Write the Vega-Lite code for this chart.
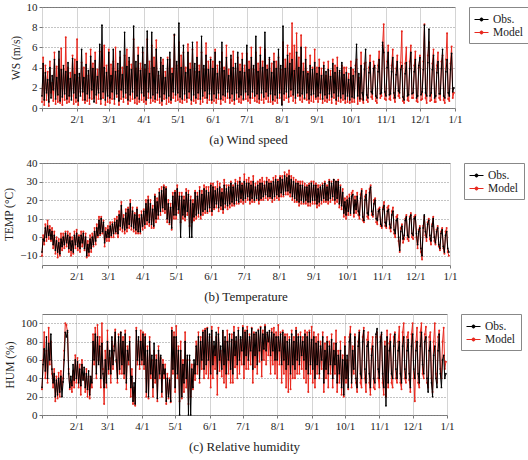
{
"$schema": "https://vega.github.io/schema/vega-lite/v6.json",
"padding": {"left": 3, "top": 0, "right": 1, "bottom": 1},
"datasets": {"s": [
{"d":0,"wo":1.2,"wm":0.6,"to":-8,"tm":-10,"ho":30,"hm":28},
{"d":1,"wo":4.4,"wm":5.0,"to":-1,"tm":1,"ho":55,"hm":60},
{"d":2,"wo":0.8,"wm":0.3,"to":-2,"tm":-4,"ho":72,"hm":90},
{"d":3,"wo":3.5,"wm":4.2,"to":5,"tm":7,"ho":48,"hm":40},
{"d":4,"wo":1.5,"wm":0.8,"to":0,"tm":-2,"ho":85,"hm":70},
{"d":5,"wo":2.8,"wm":3.6,"to":6,"tm":9,"ho":40,"hm":35},
{"d":6,"wo":0.6,"wm":0.2,"to":1,"tm":-1,"ho":78,"hm":95},
{"d":7,"wo":4.0,"wm":4.6,"to":4,"tm":6,"ho":60,"hm":55},
{"d":8,"wo":1.0,"wm":1.5,"to":-1,"tm":-2,"ho":88,"hm":80},
{"d":9,"wo":3.2,"wm":2.5,"to":3,"tm":5,"ho":50,"hm":45},
{"d":10,"wo":1.8,"wm":0.7,"to":-4,"tm":-6,"ho":35,"hm":30},
{"d":11,"wo":4.8,"wm":5.5,"to":1,"tm":3,"ho":45,"hm":50},
{"d":12,"wo":0.9,"wm":0.4,"to":-7,"tm":-9,"ho":20,"hm":15},
{"d":13,"wo":3.0,"wm":4.1,"to":-2,"tm":0,"ho":38,"hm":42},
{"d":14,"wo":1.3,"wm":0.6,"to":-8,"tm":-11,"ho":22,"hm":18},
{"d":15,"wo":5.6,"wm":4.8,"to":-3,"tm":-1,"ho":40,"hm":46},
{"d":16,"wo":0.7,"wm":0.5,"to":-9,"tm":-10,"ho":25,"hm":20},
{"d":17,"wo":3.8,"wm":5.9,"to":-1,"tm":2,"ho":42,"hm":48},
{"d":18,"wo":1.1,"wm":0.3,"to":-5,"tm":-7,"ho":20,"hm":28},
{"d":19,"wo":4.2,"wm":3.8,"to":0,"tm":2,"ho":36,"hm":40},
{"d":20,"wo":1.4,"wm":0.8,"to":-4,"tm":-6,"ho":60,"hm":70},
{"d":21,"wo":3.6,"wm":7.0,"to":2,"tm":3,"ho":90,"hm":100},
{"d":22,"wo":0.9,"wm":0.5,"to":-3,"tm":-5,"ho":85,"hm":98},
{"d":23,"wo":4.5,"wm":4.0,"to":1,"tm":3,"ho":92,"hm":90},
{"d":24,"wo":1.2,"wm":0.6,"to":-6,"tm":-8,"ho":45,"hm":50},
{"d":25,"wo":2.9,"wm":3.5,"to":0,"tm":2,"ho":30,"hm":28},
{"d":26,"wo":0.8,"wm":1.2,"to":-7,"tm":-10,"ho":42,"hm":35},
{"d":27,"wo":4.9,"wm":5.2,"to":-2,"tm":0,"ho":32,"hm":25},
{"d":28,"wo":1.5,"wm":0.4,"to":-8,"tm":-9,"ho":55,"hm":48},
{"d":29,"wo":3.3,"wm":4.8,"to":1,"tm":3,"ho":38,"hm":30},
{"d":30,"wo":1.0,"wm":0.6,"to":-4,"tm":-6,"ho":60,"hm":65},
{"d":31,"wo":4.6,"wm":6.8,"to":2,"tm":4,"ho":40,"hm":35},
{"d":32,"wo":0.7,"wm":0.3,"to":-5,"tm":-7,"ho":58,"hm":62},
{"d":33,"wo":3.4,"wm":3.0,"to":0,"tm":1,"ho":35,"hm":30},
{"d":34,"wo":1.2,"wm":1.6,"to":-6,"tm":-8,"ho":50,"hm":55},
{"d":35,"wo":5.8,"wm":4.5,"to":1,"tm":3,"ho":32,"hm":22},
{"d":36,"wo":1.6,"wm":0.8,"to":-3,"tm":-5,"ho":55,"hm":60},
{"d":37,"wo":3.0,"wm":4.0,"to":2,"tm":3,"ho":38,"hm":40},
{"d":38,"wo":0.8,"wm":0.5,"to":-6,"tm":-7,"ho":52,"hm":45},
{"d":39,"wo":4.3,"wm":5.4,"to":0,"tm":2,"ho":30,"hm":25},
{"d":40,"wo":1.4,"wm":0.7,"to":-10,"tm":-11,"ho":45,"hm":50},
{"d":41,"wo":3.7,"wm":3.2,"to":-4,"tm":-2,"ho":28,"hm":20},
{"d":42,"wo":1.0,"wm":0.4,"to":-8,"tm":-10,"ho":48,"hm":42},
{"d":43,"wo":5.1,"wm":5.8,"to":-1,"tm":1,"ho":22,"hm":18},
{"d":44,"wo":1.8,"wm":0.9,"to":-6,"tm":-8,"ho":42,"hm":40},
{"d":45,"wo":3.9,"wm":4.4,"to":0,"tm":2,"ho":35,"hm":30},
{"d":46,"wo":0.6,"wm":1.0,"to":-4,"tm":-5,"ho":80,"hm":88},
{"d":47,"wo":4.7,"wm":5.5,"to":3,"tm":5,"ho":60,"hm":55},
{"d":48,"wo":1.3,"wm":0.5,"to":-2,"tm":-4,"ho":88,"hm":95},
{"d":49,"wo":3.1,"wm":3.8,"to":5,"tm":7,"ho":45,"hm":40},
{"d":50,"wo":1.5,"wm":0.9,"to":1,"tm":0,"ho":85,"hm":98},
{"d":51,"wo":6.3,"wm":5.6,"to":9,"tm":11,"ho":55,"hm":60},
{"d":52,"wo":0.9,"wm":0.4,"to":2,"tm":1,"ho":75,"hm":85},
{"d":53,"wo":8.2,"wm":6.0,"to":10,"tm":11,"ho":40,"hm":30},
{"d":54,"wo":1.6,"wm":1.0,"to":3,"tm":2,"ho":78,"hm":100},
{"d":55,"wo":4.0,"wm":6.2,"to":8,"tm":9,"ho":45,"hm":50},
{"d":56,"wo":0.8,"wm":0.3,"to":-3,"tm":-5,"ho":30,"hm":12},
{"d":57,"wo":3.5,"wm":4.2,"to":3,"tm":5,"ho":60,"hm":70},
{"d":58,"wo":1.2,"wm":0.6,"to":0,"tm":-2,"ho":35,"hm":30},
{"d":59,"wo":5.5,"wm":5.8,"to":4,"tm":6,"ho":80,"hm":92},
{"d":60,"wo":1.0,"wm":0.5,"to":0,"tm":-2,"ho":50,"hm":45},
{"d":61,"wo":3.2,"wm":4.3,"to":6,"tm":8,"ho":70,"hm":62},
{"d":62,"wo":1.6,"wm":0.9,"to":1,"tm":0,"ho":45,"hm":35},
{"d":63,"wo":5.8,"wm":4.6,"to":7,"tm":8,"ho":85,"hm":80},
{"d":64,"wo":0.9,"wm":0.4,"to":2,"tm":0,"ho":55,"hm":50},
{"d":65,"wo":3.6,"wm":6.0,"to":8,"tm":10,"ho":70,"hm":75},
{"d":66,"wo":1.4,"wm":1.1,"to":3,"tm":2,"ho":90,"hm":93},
{"d":67,"wo":4.4,"wm":3.7,"to":9,"tm":11,"ho":60,"hm":58},
{"d":68,"wo":0.7,"wm":0.3,"to":2,"tm":0,"ho":40,"hm":35},
{"d":69,"wo":5.6,"wm":5.0,"to":12,"tm":14,"ho":85,"hm":88},
{"d":70,"wo":1.8,"wm":0.9,"to":6,"tm":4,"ho":50,"hm":45},
{"d":71,"wo":3.3,"wm":4.0,"to":17,"tm":19,"ho":90,"hm":90},
{"d":72,"wo":1.1,"wm":0.6,"to":5,"tm":3,"ho":55,"hm":45},
{"d":73,"wo":7.5,"wm":5.2,"to":10,"tm":12,"ho":80,"hm":85},
{"d":74,"wo":1.5,"wm":1.0,"to":4,"tm":2,"ho":45,"hm":40},
{"d":75,"wo":4.1,"wm":5.8,"to":13,"tm":15,"ho":88,"hm":92},
{"d":76,"wo":0.8,"wm":0.4,"to":5,"tm":3,"ho":35,"hm":28},
{"d":77,"wo":5.0,"wm":4.6,"to":15,"tm":16,"ho":70,"hm":75},
{"d":78,"wo":1.3,"wm":0.7,"to":7,"tm":5,"ho":60,"hm":55},
{"d":79,"wo":3.8,"wm":4.3,"to":18,"tm":20,"ho":80,"hm":85},
{"d":80,"wo":1.6,"wm":0.9,"to":6,"tm":4,"ho":30,"hm":20},
{"d":81,"wo":8.1,"wm":6.8,"to":14,"tm":16,"ho":42,"hm":50},
{"d":82,"wo":1.0,"wm":0.5,"to":5,"tm":3,"ho":15,"hm":12},
{"d":83,"wo":4.6,"wm":3.9,"to":12,"tm":13,"ho":35,"hm":30},
{"d":84,"wo":1.2,"wm":0.4,"to":4,"tm":2,"ho":12,"hm":10},
{"d":85,"wo":5.2,"wm":6.0,"to":15,"tm":16,"ho":92,"hm":95},
{"d":86,"wo":0.9,"wm":0.6,"to":3,"tm":2,"ho":60,"hm":55},
{"d":87,"wo":3.7,"wm":4.4,"to":10,"tm":12,"ho":85,"hm":80},
{"d":88,"wo":1.5,"wm":0.8,"to":3,"tm":2,"ho":55,"hm":50},
{"d":89,"wo":6.0,"wm":5.5,"to":12,"tm":14,"ho":80,"hm":92},
{"d":90,"wo":1.2,"wm":0.6,"to":6,"tm":4,"ho":60,"hm":55},
{"d":91,"wo":4.3,"wm":3.8,"to":14,"tm":15,"ho":88,"hm":90},
{"d":92,"wo":0.8,"wm":0.4,"to":7,"tm":5,"ho":55,"hm":50},
{"d":93,"wo":7.6,"wm":6.8,"to":18,"tm":20,"ho":85,"hm":88},
{"d":94,"wo":1.6,"wm":1.0,"to":9,"tm":7,"ho":25,"hm":20},
{"d":95,"wo":3.4,"wm":4.6,"to":20,"tm":22,"ho":70,"hm":75},
{"d":96,"wo":1.0,"wm":0.5,"to":8,"tm":6,"ho":20,"hm":18},
{"d":97,"wo":7.5,"wm":6.2,"to":18,"tm":20,"ho":80,"hm":85},
{"d":98,"wo":1.3,"wm":0.7,"to":7,"tm":5,"ho":45,"hm":40},
{"d":99,"wo":4.0,"wm":5.0,"to":15,"tm":17,"ho":65,"hm":60},
{"d":100,"wo":0.9,"wm":0.6,"to":6,"tm":5,"ho":30,"hm":20},
{"d":101,"wo":5.8,"wm":6.7,"to":22,"tm":23,"ho":78,"hm":70},
{"d":102,"wo":1.5,"wm":0.8,"to":10,"tm":8,"ho":40,"hm":35},
{"d":103,"wo":3.6,"wm":3.2,"to":19,"tm":21,"ho":60,"hm":65},
{"d":104,"wo":1.1,"wm":0.5,"to":12,"tm":10,"ho":18,"hm":15},
{"d":105,"wo":5.0,"wm":4.5,"to":24,"tm":26,"ho":70,"hm":75},
{"d":106,"wo":0.7,"wm":0.3,"to":14,"tm":12,"ho":45,"hm":40},
{"d":107,"wo":4.2,"wm":4.8,"to":25,"tm":27,"ho":65,"hm":62},
{"d":108,"wo":1.4,"wm":0.9,"to":16,"tm":14,"ho":25,"hm":20},
{"d":109,"wo":3.0,"wm":3.6,"to":27,"tm":28,"ho":55,"hm":60},
{"d":110,"wo":1.0,"wm":0.4,"to":15,"tm":13,"ho":45,"hm":40},
{"d":111,"wo":4.8,"wm":5.0,"to":26,"tm":27,"ho":50,"hm":55},
{"d":112,"wo":1.2,"wm":0.6,"to":10,"tm":8,"ho":15,"hm":12},
{"d":113,"wo":5.5,"wm":4.8,"to":18,"tm":20,"ho":40,"hm":45},
{"d":114,"wo":0.8,"wm":0.5,"to":8,"tm":7,"ho":20,"hm":18},
{"d":115,"wo":3.4,"wm":3.9,"to":16,"tm":18,"ho":38,"hm":40},
{"d":116,"wo":1.6,"wm":1.0,"to":5,"tm":4,"ho":15,"hm":14},
{"d":117,"wo":7.3,"wm":7.2,"to":22,"tm":24,"ho":92,"hm":95},
{"d":118,"wo":1.3,"wm":0.7,"to":12,"tm":10,"ho":50,"hm":45},
{"d":119,"wo":4.6,"wm":4.2,"to":24,"tm":25,"ho":85,"hm":90},
{"d":120,"wo":1.5,"wm":0.8,"to":12,"tm":10,"ho":30,"hm":25},
{"d":121,"wo":8.4,"wm":6.5,"to":26,"tm":28,"ho":85,"hm":97},
{"d":122,"wo":1.1,"wm":0.6,"to":15,"tm":13,"ho":45,"hm":40},
{"d":123,"wo":4.0,"wm":5.2,"to":22,"tm":24,"ho":70,"hm":75},
{"d":124,"wo":0.9,"wm":0.5,"to":0,"tm":8,"ho":0,"hm":15},
{"d":125,"wo":6.2,"wm":5.5,"to":22,"tm":24,"ho":70,"hm":80},
{"d":126,"wo":1.4,"wm":0.8,"to":12,"tm":10,"ho":20,"hm":18},
{"d":127,"wo":3.5,"wm":4.0,"to":20,"tm":22,"ho":55,"hm":60},
{"d":128,"wo":1.0,"wm":0.6,"to":11,"tm":9,"ho":35,"hm":25},
{"d":129,"wo":5.5,"wm":6.3,"to":24,"tm":26,"ho":80,"hm":90},
{"d":130,"wo":1.6,"wm":1.0,"to":14,"tm":12,"ho":40,"hm":30},
{"d":131,"wo":3.8,"wm":4.4,"to":23,"tm":25,"ho":65,"hm":60},
{"d":132,"wo":0.8,"wm":0.4,"to":0,"tm":6,"ho":0,"hm":12},
{"d":133,"wo":6.5,"wm":5.8,"to":20,"tm":22,"ho":65,"hm":60},
{"d":134,"wo":1.3,"wm":0.7,"to":0,"tm":8,"ho":0,"hm":20},
{"d":135,"wo":4.4,"wm":3.6,"to":18,"tm":20,"ho":50,"hm":55},
{"d":136,"wo":1.0,"wm":0.5,"to":11,"tm":9,"ho":30,"hm":28},
{"d":137,"wo":5.0,"wm":6.5,"to":24,"tm":25,"ho":60,"hm":55},
{"d":138,"wo":1.5,"wm":0.9,"to":12,"tm":10,"ho":45,"hm":38},
{"d":139,"wo":3.6,"wm":4.2,"to":22,"tm":24,"ho":75,"hm":80},
{"d":140,"wo":0.9,"wm":0.4,"to":13,"tm":11,"ho":55,"hm":45},
{"d":141,"wo":7.1,"wm":5.5,"to":25,"tm":27,"ho":85,"hm":90},
{"d":142,"wo":1.2,"wm":0.6,"to":12,"tm":10,"ho":40,"hm":35},
{"d":143,"wo":4.2,"wm":3.8,"to":23,"tm":25,"ho":80,"hm":85},
{"d":144,"wo":1.7,"wm":1.0,"to":14,"tm":12,"ho":60,"hm":50},
{"d":145,"wo":5.2,"wm":6.4,"to":26,"tm":28,"ho":90,"hm":92},
{"d":146,"wo":1.0,"wm":0.5,"to":15,"tm":13,"ho":50,"hm":40},
{"d":147,"wo":3.8,"wm":4.6,"to":25,"tm":27,"ho":92,"hm":94},
{"d":148,"wo":1.4,"wm":0.8,"to":14,"tm":13,"ho":55,"hm":45},
{"d":149,"wo":4.8,"wm":5.0,"to":24,"tm":27,"ho":94,"hm":95},
{"d":150,"wo":0.8,"wm":0.5,"to":16,"tm":14,"ho":60,"hm":40},
{"d":151,"wo":3.9,"wm":4.6,"to":28,"tm":29,"ho":88,"hm":85},
{"d":152,"wo":1.4,"wm":0.7,"to":14,"tm":12,"ho":45,"hm":30},
{"d":153,"wo":5.5,"wm":5.8,"to":27,"tm":29,"ho":92,"hm":96},
{"d":154,"wo":1.0,"wm":0.5,"to":16,"tm":15,"ho":55,"hm":40},
{"d":155,"wo":3.4,"wm":4.2,"to":25,"tm":27,"ho":80,"hm":75},
{"d":156,"wo":1.5,"wm":0.9,"to":18,"tm":16,"ho":65,"hm":50},
{"d":157,"wo":4.6,"wm":4.5,"to":26,"tm":30,"ho":90,"hm":85},
{"d":158,"wo":0.9,"wm":0.4,"to":16,"tm":14,"ho":45,"hm":22},
{"d":159,"wo":6.5,"wm":5.5,"to":27,"tm":29,"ho":88,"hm":95},
{"d":160,"wo":1.3,"wm":0.8,"to":17,"tm":15,"ho":60,"hm":48},
{"d":161,"wo":3.7,"wm":4.0,"to":24,"tm":26,"ho":75,"hm":70},
{"d":162,"wo":1.2,"wm":0.6,"to":15,"tm":13,"ho":50,"hm":42},
{"d":163,"wo":5.0,"wm":6.2,"to":28,"tm":31,"ho":92,"hm":90},
{"d":164,"wo":1.6,"wm":1.0,"to":18,"tm":16,"ho":55,"hm":35},
{"d":165,"wo":3.2,"wm":3.8,"to":26,"tm":28,"ho":85,"hm":80},
{"d":166,"wo":1.0,"wm":0.5,"to":17,"tm":15,"ho":45,"hm":30},
{"d":167,"wo":5.2,"wm":4.8,"to":27,"tm":28,"ho":80,"hm":92},
{"d":168,"wo":1.4,"wm":0.7,"to":18,"tm":16,"ho":60,"hm":45},
{"d":169,"wo":4.0,"wm":5.6,"to":29,"tm":30,"ho":88,"hm":80},
{"d":170,"wo":0.8,"wm":0.4,"to":19,"tm":17,"ho":50,"hm":35},
{"d":171,"wo":4.4,"wm":3.9,"to":27,"tm":28,"ho":82,"hm":88},
{"d":172,"wo":1.5,"wm":0.9,"to":18,"tm":17,"ho":45,"hm":35},
{"d":173,"wo":5.5,"wm":5.0,"to":29,"tm":31,"ho":90,"hm":96},
{"d":174,"wo":1.1,"wm":0.6,"to":20,"tm":18,"ho":65,"hm":52},
{"d":175,"wo":3.6,"wm":4.3,"to":28,"tm":30,"ho":85,"hm":80},
{"d":176,"wo":1.3,"wm":0.5,"to":19,"tm":18,"ho":55,"hm":40},
{"d":177,"wo":4.8,"wm":5.4,"to":30,"tm":32,"ho":92,"hm":95},
{"d":178,"wo":0.9,"wm":0.8,"to":21,"tm":19,"ho":60,"hm":45},
{"d":179,"wo":3.5,"wm":4.2,"to":28,"tm":29,"ho":85,"hm":82},
{"d":180,"wo":1.6,"wm":0.9,"to":20,"tm":18,"ho":70,"hm":55},
{"d":181,"wo":6.2,"wm":5.4,"to":30,"tm":34,"ho":95,"hm":97},
{"d":182,"wo":1.3,"wm":0.7,"to":21,"tm":19,"ho":55,"hm":40},
{"d":183,"wo":3.8,"wm":4.6,"to":29,"tm":31,"ho":90,"hm":92},
{"d":184,"wo":1.0,"wm":0.5,"to":22,"tm":20,"ho":65,"hm":50},
{"d":185,"wo":5.0,"wm":6.0,"to":29,"tm":32,"ho":92,"hm":96},
{"d":186,"wo":1.6,"wm":1.0,"to":20,"tm":18,"ho":60,"hm":50},
{"d":187,"wo":4.2,"wm":3.8,"to":28,"tm":30,"ho":85,"hm":88},
{"d":188,"wo":1.2,"wm":0.7,"to":21,"tm":19,"ho":70,"hm":55},
{"d":189,"wo":7.1,"wm":5.5,"to":30,"tm":33,"ho":94,"hm":95},
{"d":190,"wo":1.4,"wm":0.6,"to":20,"tm":19,"ho":50,"hm":35},
{"d":191,"wo":3.6,"wm":4.4,"to":27,"tm":29,"ho":88,"hm":90},
{"d":192,"wo":0.9,"wm":0.5,"to":21,"tm":20,"ho":65,"hm":52},
{"d":193,"wo":5.2,"wm":6.0,"to":28,"tm":30,"ho":90,"hm":88},
{"d":194,"wo":1.5,"wm":0.8,"to":20,"tm":18,"ho":55,"hm":45},
{"d":195,"wo":4.0,"wm":4.6,"to":29,"tm":31,"ho":92,"hm":93},
{"d":196,"wo":1.1,"wm":0.5,"to":21,"tm":20,"ho":70,"hm":58},
{"d":197,"wo":7.5,"wm":5.8,"to":29,"tm":32,"ho":95,"hm":96},
{"d":198,"wo":1.6,"wm":0.9,"to":22,"tm":20,"ho":60,"hm":42},
{"d":199,"wo":3.8,"wm":4.2,"to":28,"tm":30,"ho":88,"hm":92},
{"d":200,"wo":1.2,"wm":0.6,"to":23,"tm":21,"ho":72,"hm":60},
{"d":201,"wo":5.0,"wm":4.8,"to":30,"tm":32,"ho":96,"hm":98},
{"d":202,"wo":1.4,"wm":0.6,"to":22,"tm":20,"ho":70,"hm":55},
{"d":203,"wo":3.5,"wm":4.4,"to":29,"tm":31,"ho":90,"hm":88},
{"d":204,"wo":0.8,"wm":0.4,"to":22,"tm":21,"ho":80,"hm":65},
{"d":205,"wo":4.6,"wm":5.4,"to":29,"tm":30,"ho":92,"hm":90},
{"d":206,"wo":1.3,"wm":0.7,"to":21,"tm":19,"ho":65,"hm":45},
{"d":207,"wo":3.9,"wm":4.6,"to":30,"tm":32,"ho":90,"hm":94},
{"d":208,"wo":1.0,"wm":0.5,"to":22,"tm":20,"ho":70,"hm":55},
{"d":209,"wo":5.8,"wm":5.0,"to":31,"tm":33,"ho":88,"hm":95},
{"d":210,"wo":1.5,"wm":1.0,"to":23,"tm":21,"ho":60,"hm":45},
{"d":211,"wo":4.2,"wm":3.8,"to":30,"tm":31,"ho":85,"hm":90},
{"d":212,"wo":0.3,"wm":0.4,"to":22,"tm":20,"ho":60,"hm":40},
{"d":213,"wo":8.1,"wm":6.5,"to":32,"tm":33,"ho":85,"hm":98},
{"d":214,"wo":1.4,"wm":0.8,"to":24,"tm":22,"ho":70,"hm":55},
{"d":215,"wo":3.9,"wm":4.8,"to":31,"tm":33,"ho":88,"hm":90},
{"d":216,"wo":1.6,"wm":1.0,"to":23,"tm":22,"ho":55,"hm":35},
{"d":217,"wo":5.2,"wm":6.2,"to":33,"tm":35,"ho":90,"hm":92},
{"d":218,"wo":1.1,"wm":0.6,"to":25,"tm":23,"ho":60,"hm":45},
{"d":219,"wo":4.4,"wm":5.4,"to":32,"tm":34,"ho":85,"hm":88},
{"d":220,"wo":1.8,"wm":1.2,"to":25,"tm":23,"ho":50,"hm":30},
{"d":221,"wo":4.8,"wm":8.4,"to":33,"tm":36,"ho":80,"hm":88},
{"d":222,"wo":1.3,"wm":0.7,"to":24,"tm":22,"ho":55,"hm":25},
{"d":223,"wo":3.7,"wm":6.2,"to":31,"tm":33,"ho":82,"hm":85},
{"d":224,"wo":1.0,"wm":0.5,"to":22,"tm":20,"ho":45,"hm":28},
{"d":225,"wo":5.5,"wm":7.4,"to":30,"tm":32,"ho":88,"hm":92},
{"d":226,"wo":1.5,"wm":1.2,"to":21,"tm":19,"ho":55,"hm":40},
{"d":227,"wo":4.0,"wm":5.0,"to":29,"tm":31,"ho":80,"hm":85},
{"d":228,"wo":1.2,"wm":0.8,"to":20,"tm":19,"ho":50,"hm":40},
{"d":229,"wo":6.0,"wm":7.2,"to":29,"tm":30,"ho":92,"hm":95},
{"d":230,"wo":1.4,"wm":0.6,"to":19,"tm":17,"ho":60,"hm":45},
{"d":231,"wo":3.6,"wm":4.4,"to":28,"tm":30,"ho":85,"hm":88},
{"d":232,"wo":1.0,"wm":0.9,"to":20,"tm":18,"ho":55,"hm":45},
{"d":233,"wo":4.8,"wm":6.0,"to":28,"tm":30,"ho":85,"hm":90},
{"d":234,"wo":1.5,"wm":0.8,"to":19,"tm":18,"ho":65,"hm":50},
{"d":235,"wo":3.4,"wm":3.6,"to":27,"tm":29,"ho":80,"hm":85},
{"d":236,"wo":0.9,"wm":0.5,"to":20,"tm":18,"ho":60,"hm":40},
{"d":237,"wo":4.2,"wm":5.2,"to":27,"tm":28,"ho":88,"hm":92},
{"d":238,"wo":1.3,"wm":0.7,"to":19,"tm":17,"ho":50,"hm":35},
{"d":239,"wo":3.8,"wm":4.0,"to":28,"tm":29,"ho":85,"hm":90},
{"d":240,"wo":1.4,"wm":0.6,"to":19,"tm":17,"ho":45,"hm":25},
{"d":241,"wo":4.5,"wm":5.8,"to":29,"tm":30,"ho":90,"hm":92},
{"d":242,"wo":1.1,"wm":0.9,"to":20,"tm":18,"ho":55,"hm":45},
{"d":243,"wo":3.4,"wm":4.0,"to":28,"tm":30,"ho":82,"hm":96},
{"d":244,"wo":1.2,"wm":0.6,"to":20,"tm":18,"ho":50,"hm":35},
{"d":245,"wo":4.0,"wm":4.8,"to":28,"tm":29,"ho":85,"hm":90},
{"d":246,"wo":1.5,"wm":0.9,"to":18,"tm":16,"ho":40,"hm":30},
{"d":247,"wo":3.2,"wm":3.9,"to":26,"tm":28,"ho":78,"hm":85},
{"d":248,"wo":0.9,"wm":0.5,"to":19,"tm":17,"ho":55,"hm":45},
{"d":249,"wo":4.2,"wm":4.5,"to":27,"tm":28,"ho":80,"hm":88},
{"d":250,"wo":1.3,"wm":0.7,"to":20,"tm":18,"ho":45,"hm":40},
{"d":251,"wo":3.6,"wm":3.2,"to":28,"tm":29,"ho":75,"hm":80},
{"d":252,"wo":1.0,"wm":0.6,"to":21,"tm":19,"ho":60,"hm":50},
{"d":253,"wo":3.8,"wm":4.6,"to":29,"tm":30,"ho":85,"hm":90},
{"d":254,"wo":1.4,"wm":0.8,"to":20,"tm":19,"ho":35,"hm":25},
{"d":255,"wo":3.1,"wm":3.7,"to":27,"tm":28,"ho":70,"hm":78},
{"d":256,"wo":1.1,"wm":0.5,"to":20,"tm":18,"ho":50,"hm":40},
{"d":257,"wo":4.4,"wm":4.8,"to":30,"tm":31,"ho":80,"hm":85},
{"d":258,"wo":1.5,"wm":1.0,"to":21,"tm":19,"ho":45,"hm":30},
{"d":259,"wo":3.5,"wm":4.2,"to":29,"tm":30,"ho":75,"hm":80},
{"d":260,"wo":0.8,"wm":0.4,"to":22,"tm":20,"ho":55,"hm":45},
{"d":261,"wo":4.0,"wm":5.0,"to":31,"tm":31,"ho":82,"hm":88},
{"d":262,"wo":1.2,"wm":0.7,"to":20,"tm":18,"ho":40,"hm":30},
{"d":263,"wo":3.7,"wm":3.5,"to":30,"tm":30,"ho":70,"hm":78},
{"d":264,"wo":1.0,"wm":0.6,"to":21,"tm":19,"ho":55,"hm":45},
{"d":265,"wo":4.5,"wm":4.2,"to":30,"tm":31,"ho":78,"hm":92},
{"d":266,"wo":1.4,"wm":0.8,"to":18,"tm":16,"ho":35,"hm":25},
{"d":267,"wo":3.3,"wm":4.0,"to":27,"tm":28,"ho":65,"hm":70},
{"d":268,"wo":0.9,"wm":0.5,"to":17,"tm":15,"ho":45,"hm":35},
{"d":269,"wo":3.5,"wm":4.0,"to":24,"tm":26,"ho":70,"hm":80},
{"d":270,"wo":1.2,"wm":0.6,"to":13,"tm":11,"ho":30,"hm":22},
{"d":271,"wo":2.8,"wm":3.4,"to":19,"tm":21,"ho":60,"hm":65},
{"d":272,"wo":0.8,"wm":0.5,"to":12,"tm":10,"ho":22,"hm":20},
{"d":273,"wo":4.0,"wm":4.6,"to":20,"tm":22,"ho":75,"hm":85},
{"d":274,"wo":1.1,"wm":0.6,"to":14,"tm":12,"ho":40,"hm":35},
{"d":275,"wo":3.2,"wm":3.8,"to":21,"tm":23,"ho":65,"hm":60},
{"d":276,"wo":1.0,"wm":0.6,"to":13,"tm":12,"ho":30,"hm":28},
{"d":277,"wo":3.6,"wm":4.2,"to":22,"tm":24,"ho":80,"hm":85},
{"d":278,"wo":6.3,"wm":4.8,"to":23,"tm":25,"ho":88,"hm":96},
{"d":279,"wo":1.2,"wm":0.4,"to":13,"tm":11,"ho":35,"hm":30},
{"d":280,"wo":3.4,"wm":3.0,"to":20,"tm":22,"ho":70,"hm":75},
{"d":281,"wo":0.9,"wm":0.7,"to":15,"tm":13,"ho":50,"hm":45},
{"d":282,"wo":4.2,"wm":5.5,"to":22,"tm":24,"ho":85,"hm":88},
{"d":283,"wo":1.5,"wm":0.9,"to":14,"tm":12,"ho":40,"hm":35},
{"d":284,"wo":0.8,"wm":0.5,"to":12,"tm":10,"ho":30,"hm":25},
{"d":285,"wo":3.8,"wm":4.4,"to":21,"tm":23,"ho":75,"hm":80},
{"d":286,"wo":5.8,"wm":4.5,"to":25,"tm":26,"ho":90,"hm":92},
{"d":287,"wo":1.3,"wm":0.8,"to":11,"tm":9,"ho":45,"hm":35},
{"d":288,"wo":1.0,"wm":0.6,"to":9,"tm":8,"ho":40,"hm":30},
{"d":289,"wo":3.5,"wm":4.0,"to":20,"tm":22,"ho":80,"hm":85},
{"d":290,"wo":4.5,"wm":5.2,"to":23,"tm":25,"ho":92,"hm":95},
{"d":291,"wo":1.6,"wm":1.1,"to":13,"tm":11,"ho":50,"hm":40},
{"d":292,"wo":1.4,"wm":0.9,"to":12,"tm":10,"ho":35,"hm":25},
{"d":293,"wo":3.9,"wm":4.6,"to":24,"tm":26,"ho":75,"hm":82},
{"d":294,"wo":4.2,"wm":4.0,"to":27,"tm":28,"ho":80,"hm":90},
{"d":295,"wo":1.2,"wm":0.7,"to":14,"tm":12,"ho":45,"hm":35},
{"d":296,"wo":1.0,"wm":0.5,"to":12,"tm":11,"ho":30,"hm":22},
{"d":297,"wo":3.6,"wm":4.2,"to":18,"tm":20,"ho":65,"hm":72},
{"d":298,"wo":4.8,"wm":5.6,"to":20,"tm":21,"ho":75,"hm":85},
{"d":299,"wo":1.4,"wm":1.0,"to":10,"tm":8,"ho":40,"hm":30},
{"d":300,"wo":1.5,"wm":1.2,"to":9,"tm":7,"ho":35,"hm":28},
{"d":301,"wo":6.5,"wm":6.2,"to":14,"tm":15,"ho":88,"hm":85},
{"d":302,"wo":5.5,"wm":8.3,"to":15,"tm":16,"ho":94,"hm":90},
{"d":303,"wo":1.6,"wm":0.9,"to":7,"tm":6,"ho":50,"hm":40},
{"d":304,"wo":1.2,"wm":0.8,"to":6,"tm":5,"ho":40,"hm":30},
{"d":305,"wo":4.0,"wm":4.6,"to":15,"tm":16,"ho":80,"hm":85},
{"d":306,"wo":5.5,"wm":6.2,"to":17,"tm":19,"ho":90,"hm":88},
{"d":307,"wo":1.3,"wm":0.9,"to":8,"tm":6,"ho":45,"hm":35},
{"d":308,"wo":1.4,"wm":0.8,"to":6,"tm":5,"ho":30,"hm":22},
{"d":309,"wo":3.6,"wm":4.2,"to":14,"tm":16,"ho":75,"hm":80},
{"d":310,"wo":5.0,"wm":5.8,"to":15,"tm":17,"ho":10,"hm":20},
{"d":311,"wo":1.5,"wm":1.0,"to":7,"tm":5,"ho":85,"hm":92},
{"d":312,"wo":1.0,"wm":0.6,"to":5,"tm":3,"ho":35,"hm":30},
{"d":313,"wo":3.3,"wm":3.9,"to":12,"tm":14,"ho":70,"hm":78},
{"d":314,"wo":4.6,"wm":5.2,"to":14,"tm":16,"ho":80,"hm":88},
{"d":315,"wo":1.7,"wm":1.2,"to":4,"tm":2,"ho":45,"hm":35},
{"d":316,"wo":1.5,"wm":1.0,"to":2,"tm":0,"ho":40,"hm":30},
{"d":317,"wo":3.8,"wm":4.5,"to":9,"tm":11,"ho":75,"hm":85},
{"d":318,"wo":4.2,"wm":7.6,"to":10,"tm":12,"ho":88,"hm":90},
{"d":319,"wo":1.1,"wm":0.7,"to":0,"tm":-2,"ho":50,"hm":40},
{"d":320,"wo":0.8,"wm":0.5,"to":-7,"tm":-8,"ho":40,"hm":35},
{"d":321,"wo":3.4,"wm":4.4,"to":3,"tm":5,"ho":70,"hm":80},
{"d":322,"wo":4.5,"wm":6.0,"to":6,"tm":7,"ho":80,"hm":96},
{"d":323,"wo":1.2,"wm":0.8,"to":-1,"tm":-3,"ho":45,"hm":35},
{"d":324,"wo":1.3,"wm":0.7,"to":1,"tm":-1,"ho":35,"hm":28},
{"d":325,"wo":3.9,"wm":4.6,"to":9,"tm":10,"ho":75,"hm":90},
{"d":326,"wo":5.5,"wm":6.2,"to":11,"tm":12,"ho":85,"hm":100},
{"d":327,"wo":1.4,"wm":1.0,"to":1,"tm":-1,"ho":50,"hm":40},
{"d":328,"wo":1.5,"wm":1.0,"to":0,"tm":-2,"ho":40,"hm":35},
{"d":329,"wo":3.6,"wm":4.2,"to":10,"tm":11,"ho":70,"hm":85},
{"d":330,"wo":4.8,"wm":5.6,"to":12,"tm":13,"ho":82,"hm":90},
{"d":331,"wo":1.0,"wm":0.7,"to":2,"tm":0,"ho":45,"hm":38},
{"d":332,"wo":1.2,"wm":0.6,"to":1,"tm":-1,"ho":30,"hm":25},
{"d":333,"wo":4.2,"wm":4.0,"to":10,"tm":11,"ho":75,"hm":88},
{"d":334,"wo":5.0,"wm":5.2,"to":11,"tm":12,"ho":88,"hm":100},
{"d":335,"wo":1.3,"wm":0.8,"to":2,"tm":0,"ho":50,"hm":40},
{"d":336,"wo":1.6,"wm":0.9,"to":-4,"tm":-6,"ho":40,"hm":15},
{"d":337,"wo":3.8,"wm":4.6,"to":3,"tm":4,"ho":70,"hm":80},
{"d":338,"wo":8.2,"wm":8.3,"to":5,"tm":6,"ho":80,"hm":95},
{"d":339,"wo":1.5,"wm":1.0,"to":-6,"tm":-8,"ho":45,"hm":35},
{"d":340,"wo":1.2,"wm":0.5,"to":-10,"tm":-12,"ho":35,"hm":30},
{"d":341,"wo":4.5,"wm":5.2,"to":5,"tm":6,"ho":75,"hm":90},
{"d":342,"wo":7.8,"wm":6.5,"to":12,"tm":11,"ho":90,"hm":100},
{"d":343,"wo":1.2,"wm":0.7,"to":3,"tm":1,"ho":55,"hm":45},
{"d":344,"wo":1.5,"wm":0.8,"to":0,"tm":-2,"ho":45,"hm":40},
{"d":345,"wo":3.8,"wm":4.4,"to":7,"tm":8,"ho":80,"hm":88},
{"d":346,"wo":5.2,"wm":5.8,"to":9,"tm":10,"ho":85,"hm":96},
{"d":347,"wo":1.0,"wm":0.6,"to":1,"tm":-1,"ho":40,"hm":35},
{"d":348,"wo":1.2,"wm":0.6,"to":-2,"tm":-4,"ho":25,"hm":30},
{"d":349,"wo":3.5,"wm":4.2,"to":6,"tm":7,"ho":70,"hm":85},
{"d":350,"wo":4.6,"wm":5.5,"to":10,"tm":11,"ho":80,"hm":90},
{"d":351,"wo":1.4,"wm":1.0,"to":0,"tm":-2,"ho":35,"hm":40},
{"d":352,"wo":1.4,"wm":0.8,"to":-3,"tm":-4,"ho":20,"hm":25},
{"d":353,"wo":3.9,"wm":4.6,"to":3,"tm":4,"ho":65,"hm":80},
{"d":354,"wo":5.8,"wm":5.2,"to":5,"tm":6,"ho":75,"hm":100},
{"d":355,"wo":1.2,"wm":0.8,"to":-4,"tm":-5,"ho":40,"hm":45},
{"d":356,"wo":1.0,"wm":0.5,"to":-6,"tm":-7,"ho":30,"hm":35},
{"d":357,"wo":3.6,"wm":4.8,"to":2,"tm":3,"ho":70,"hm":85},
{"d":358,"wo":4.8,"wm":7.4,"to":4,"tm":5,"ho":88,"hm":92},
{"d":359,"wo":1.5,"wm":0.9,"to":-5,"tm":-6,"ho":45,"hm":50},
{"d":360,"wo":1.2,"wm":0.7,"to":-8,"tm":-9,"ho":30,"hm":40},
{"d":361,"wo":3.8,"wm":4.4,"to":1,"tm":3,"ho":60,"hm":80},
{"d":362,"wo":5.4,"wm":6.1,"to":3,"tm":5,"ho":65,"hm":95},
{"d":363,"wo":1.6,"wm":1.0,"to":-6,"tm":-8,"ho":40,"hm":50},
{"d":364,"wo":2.0,"wm":1.5,"to":-8,"tm":-10,"ho":45,"hm":58}
]},
"config": {
  "font": "Liberation Serif, Times New Roman, DejaVu Serif, serif",
  "view": {"stroke": "#777", "strokeWidth": 1},
  "axis": {"labelFont": "Liberation Serif, Times New Roman, DejaVu Serif, serif", "titleFont": "Liberation Serif, Times New Roman, DejaVu Serif, serif", "labelFontSize": 11, "titleFontSize": 11.5, "titleFontWeight": "normal", "labelColor": "#222", "titleColor": "#222", "tickColor": "#777", "domain": false, "tickSize": 3},
  "axisX": {"grid": true, "gridColor": "#d4d4d4", "ticks": true, "labelPadding": 2, "labelFlush": false, "labelOverlap": false},
  "axisY": {"grid": true, "gridColor": "#888", "gridDash": [1, 2], "titlePadding": 5, "labelPadding": 2},
  "legend": {"title": null, "orient": "right", "offset": 14, "strokeColor": "#888", "padding": 5, "labelFont": "Liberation Serif, Times New Roman, DejaVu Serif, serif", "labelFontSize": 11.5, "labelColor": "#222", "rowPadding": 0, "labelOffset": 4, "symbolType": "M-1,0H1M0,-0.22A0.22,0.22 0 1,1 0,0.22A0.22,0.22 0 1,1 0,-0.22", "symbolSize": 196, "symbolStrokeWidth": 1.5},
  "title": {"font": "Liberation Serif, Times New Roman, DejaVu Serif, serif", "fontSize": 13, "fontWeight": "normal", "orient": "bottom", "offset": 10, "color": "#222", "frame": "group"},
  "line": {"strokeWidth": 1},
  "concat": {"spacing": 8}
},
"columns": 1,
"align": "none",
"resolve": {"scale": {"color": "independent", "y": "independent", "x": "independent"}, "legend": {"color": "independent"}},
"concat": [
 {
  "width": 413, "height": 101,
  "title": {"text": "(a) Wind speed"},
  "data": {"name": "s"},
  "encoding": {"x": {"field": "d", "type": "quantitative", "scale": {"domain": [0, 365], "nice": false}, "axis": {"title": null, "values": [0, 31, 59, 90, 120, 151, 181, 212, 243, 273, 304, 334, 365], "labelExpr": "['','2/1','3/1','4/1','5/1','6/1','7/1','8/1','9/1','10/1','11/1','12/1','1/1'][indexof([0,31,59,90,120,151,181,212,243,273,304,334,365], datum.value)]"}}},
  "layer": [
   {"mark": {"type": "line", "point": {"filled": true, "size": 4}}, "encoding": {"y": {"field": "wm", "type": "quantitative", "scale": {"domain": [0, 10], "nice": false}, "axis": {"title": "WS (m/s)", "values": [0, 2, 4, 6, 8, 10]}}, "color": {"datum": "Model", "type": "nominal", "scale": {"domain": ["Obs.", "Model"], "range": ["#000000", "#e8281e"]}}}},
   {"mark": {"type": "line", "point": {"filled": true, "size": 3}}, "encoding": {"y": {"field": "wo", "type": "quantitative", "axis": {"title": "WS (m/s)", "values": [0, 2, 4, 6, 8, 10]}}, "color": {"datum": "Obs.", "type": "nominal"}}}
  ]
 },
 {
  "width": 408, "height": 102,
  "title": {"text": "(b) Temperature"},
  "data": {"name": "s"},
  "encoding": {"x": {"field": "d", "type": "quantitative", "scale": {"domain": [0, 365], "nice": false}, "axis": {"title": null, "values": [0, 31, 59, 90, 120, 151, 181, 212, 243, 273, 304, 334, 365], "labelExpr": "['','2/1','3/1','4/1','5/1','6/1','7/1','8/1','9/1','10/1','11/1','12/1','1/1'][indexof([0,31,59,90,120,151,181,212,243,273,304,334,365], datum.value)]"}}},
  "layer": [
   {"mark": {"type": "line", "point": {"filled": true, "size": 4}}, "encoding": {"y": {"field": "tm", "type": "quantitative", "scale": {"domain": [-15, 40], "nice": false}, "axis": {"title": "TEMP (°C)", "values": [-10, 0, 10, 20, 30, 40]}}, "color": {"datum": "Model", "type": "nominal", "scale": {"domain": ["Obs.", "Model"], "range": ["#000000", "#e8281e"]}}}},
   {"mark": {"type": "line", "point": {"filled": true, "size": 3}}, "encoding": {"y": {"field": "to", "type": "quantitative", "axis": {"title": "TEMP (°C)", "values": [-10, 0, 10, 20, 30, 40]}}, "color": {"datum": "Obs.", "type": "nominal"}}}
  ]
 },
 {
  "width": 405, "height": 101,
  "title": {"text": "(c) Relative humidity"},
  "data": {"name": "s"},
  "encoding": {"x": {"field": "d", "type": "quantitative", "scale": {"domain": [0, 365], "nice": false}, "axis": {"title": null, "values": [0, 31, 59, 90, 120, 151, 181, 212, 243, 273, 304, 334, 365], "labelExpr": "['','2/1','3/1','4/1','5/1','6/1','7/1','8/1','9/1','10/1','11/1','12/1','1/1'][indexof([0,31,59,90,120,151,181,212,243,273,304,334,365], datum.value)]"}}},
  "layer": [
   {"mark": {"type": "line", "point": {"filled": true, "size": 4}}, "encoding": {"y": {"field": "hm", "type": "quantitative", "scale": {"domain": [0, 110], "nice": false}, "axis": {"title": "HUM (%)", "values": [0, 20, 40, 60, 80, 100]}}, "color": {"datum": "Model", "type": "nominal", "scale": {"domain": ["Obs.", "Model"], "range": ["#000000", "#e8281e"]}}}},
   {"mark": {"type": "line", "point": {"filled": true, "size": 3}}, "encoding": {"y": {"field": "ho", "type": "quantitative", "axis": {"title": "HUM (%)", "values": [0, 20, 40, 60, 80, 100]}}, "color": {"datum": "Obs.", "type": "nominal"}}}
  ]
 }
]
}
